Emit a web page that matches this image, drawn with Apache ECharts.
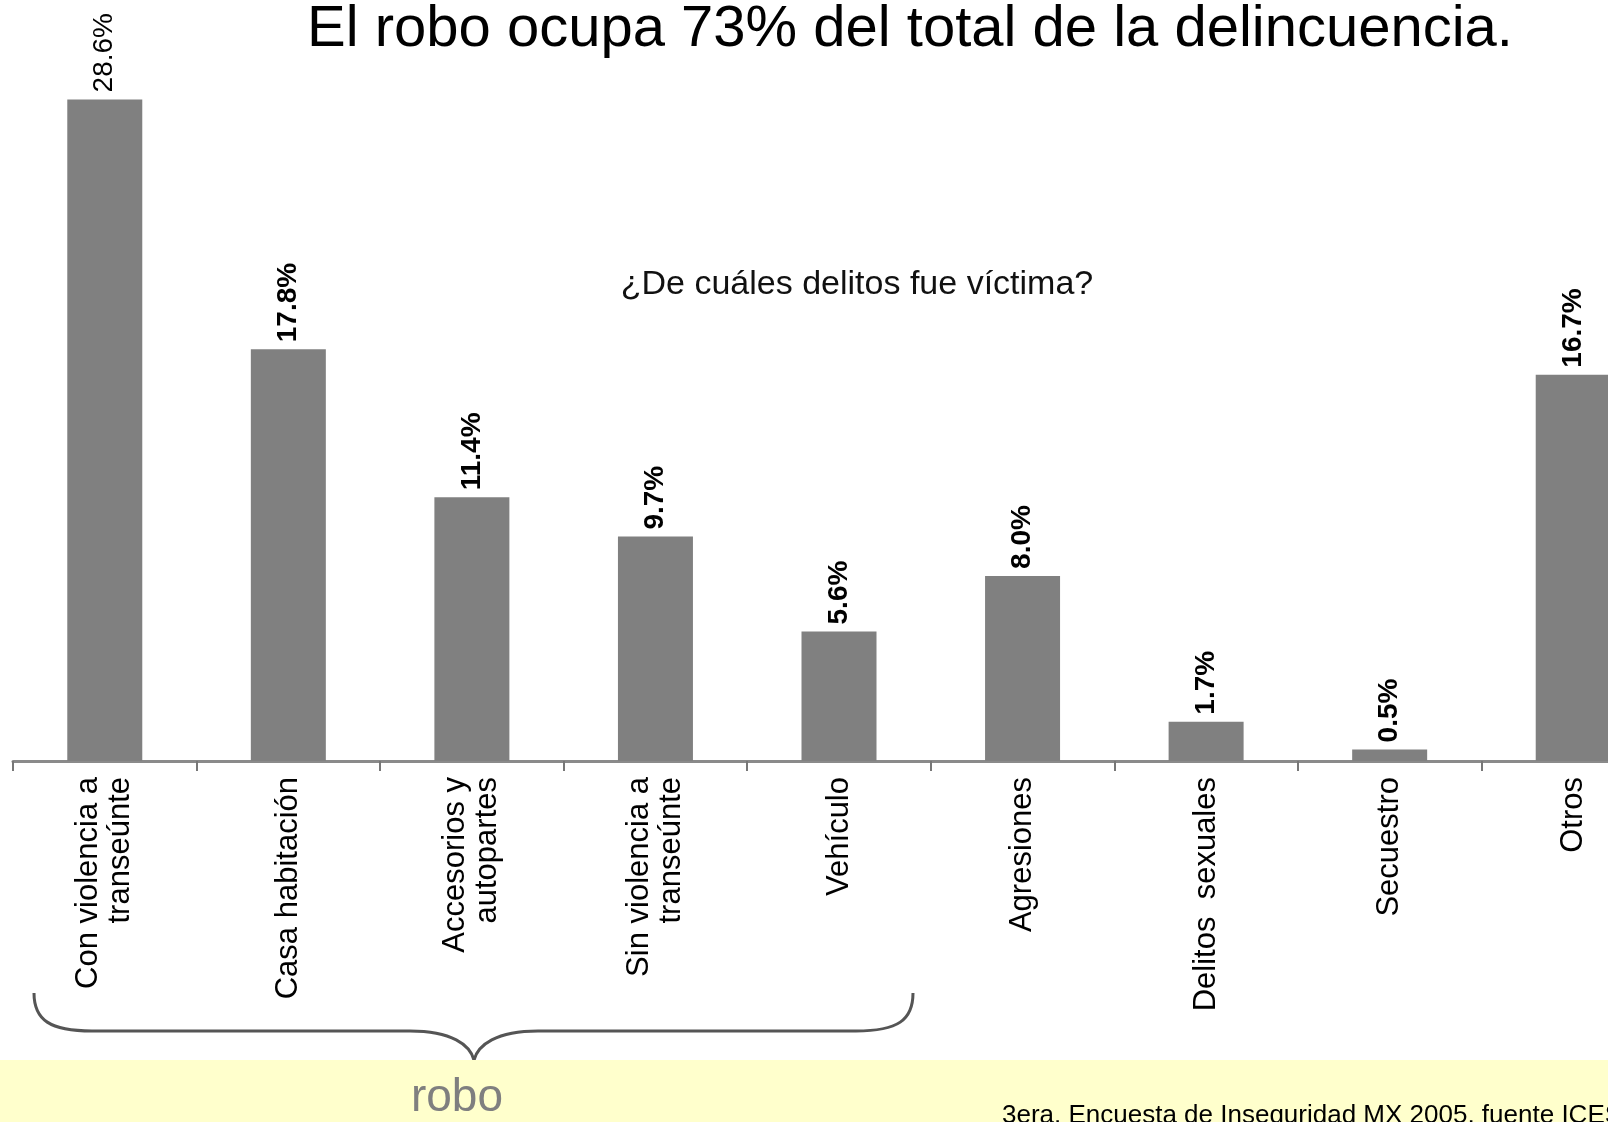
<!DOCTYPE html>
<html>
<head>
<meta charset="utf-8">
<title>Delitos</title>
<script src="https://cdn.jsdelivr.net/npm/echarts@6/dist/echarts.min.js"></script>
<style>
  html, body { margin: 0; padding: 0; background: #fff; overflow: hidden; }
  /* el gráfico original está recortado a la derecha: el lienzo es más ancho que la ventana */
  #chart { width: 1665px; height: 1122px; }
</style>
</head>
<body>
<div id="chart"></div>
<script>
// categorías del eje x
var categorias = ['Con violencia a\ntranseúnte', 'Casa habitación', 'Accesorios y\nautopartes', 'Sin violencia a\ntranseúnte', 'Vehículo', 'Agresiones', 'Delitos  sexuales', 'Secuestro', 'Otros'];
// porcentaje de víctimas por tipo de delito
var porcentajes = [28.6, 17.8, 11.4, 9.7, 5.6, 8.0, 1.7, 0.5, 16.7];

var titulo = 'El robo ocupa 73% del total de la delincuencia.';
var subtitulo = '¿De cuáles delitos fue víctima?';
var etiquetaRobo = 'robo';
var fuente = '3era. Encuesta de Inseguridad MX 2005, fuente ICESI';

var chart = echarts.init(document.getElementById('chart'));

var llave = { stroke: '#555', lineWidth: 3, fill: 'none' };

var datos = porcentajes.map(function (v, i) {
  // la primera etiqueta se ve más delgada en el original
  return i === 0 ? { value: v, label: { fontWeight: 'normal' } } : v;
});

var option = {
  backgroundColor: '#fff',
  animation: false,
  title: [
    {
      text: titulo,
      left: 910,
      top: 1,
      padding: 0,
      textAlign: 'center',
      textStyle: { fontFamily: 'Arial', fontSize: 58, fontWeight: 'normal', color: '#000' }
    },
    {
      text: subtitulo,
      left: 857,
      top: 268,
      padding: 0,
      textAlign: 'center',
      textStyle: { fontFamily: 'Arial', fontSize: 34, fontWeight: 'normal', color: '#111' }
    }
  ],
  grid: { left: 13, right: 0, top: 67, bottom: 361 },
  xAxis: {
    type: 'category',
    data: categorias,
    axisLine: { lineStyle: { color: '#8a8a8a', width: 3 } },
    axisTick: { show: true, length: 10, lineStyle: { color: '#777', width: 2 } },
    axisLabel: {
      interval: 0,
      rotate: 90,
      margin: 16,
      fontFamily: 'Arial',
      fontSize: 31,
      lineHeight: 32,
      color: '#000'
    }
  },
  yAxis: { type: 'value', min: 0, max: 30, show: false },
  series: [
    {
      type: 'bar',
      data: datos,
      barWidth: 75,
      itemStyle: { color: '#808080' },
      label: {
        show: true,
        position: 'top',
        rotate: 90,
        align: 'left',
        verticalAlign: 'middle',
        distance: 7,
        fontFamily: 'Arial',
        fontSize: 28,
        fontWeight: 'bold',
        color: '#000',
        formatter: function (p) { return p.value.toFixed(1) + '%'; }
      }
    }
  ],
  graphic: [
    // llave que agrupa los tipos de robo
    { type: 'bezierCurve', shape: { x1: 34, y1: 993, cpx1: 34, cpy1: 1020, cpx2: 50, cpy2: 1031, x2: 92, y2: 1031 }, style: llave },
    { type: 'line', shape: { x1: 92, y1: 1031, x2: 410, y2: 1031 }, style: llave },
    { type: 'bezierCurve', shape: { x1: 410, y1: 1031, cpx1: 452, cpy1: 1031, cpx2: 470, cpy2: 1045, x2: 474, y2: 1060 }, style: llave },
    { type: 'bezierCurve', shape: { x1: 474, y1: 1060, cpx1: 478, cpy1: 1045, cpx2: 496, cpy2: 1031, x2: 538, y2: 1031 }, style: llave },
    { type: 'line', shape: { x1: 538, y1: 1031, x2: 856, y2: 1031 }, style: llave },
    { type: 'bezierCurve', shape: { x1: 856, y1: 1031, cpx1: 898, cpy1: 1031, cpx2: 913, cpy2: 1020, x2: 913, y2: 993 }, style: llave },
    // banda amarilla inferior
    {
      type: 'rect',
      shape: { x: 0, y: 1060, width: 1665, height: 62 },
      style: { fill: '#ffffcc' },
      z: 10
    },
    {
      type: 'text',
      x: 457,
      y: 1075,
      z: 11,
      style: { text: etiquetaRobo, font: '46px Arial', fill: '#7f7f7f', textAlign: 'center', textVerticalAlign: 'top' }
    },
    {
      type: 'text',
      x: 1002,
      y: 1103,
      z: 11,
      style: { text: fuente, font: '26px Arial', fill: '#000', textAlign: 'left', textVerticalAlign: 'top' }
    }
  ]
};

chart.setOption(option);
</script>
</body>
</html>
